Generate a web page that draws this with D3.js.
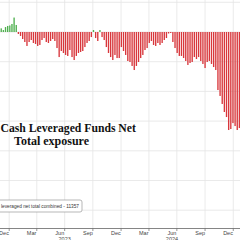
<!DOCTYPE html>
<html><head><meta charset="utf-8">
<script src="https://cdn.jsdelivr.net/npm/d3@7"></script>
<style>html,body{margin:0;padding:0;background:#fff;overflow:hidden}</style>
</head><body><svg id="c" width="240" height="240"></svg>
<script>
const startDate = "2022-12-06";
const values = [
 370, 200, 500, 610, 660, 810, 1460, 710,
 -200, -400, -710, -1010, -1410, -1010, -810, -1110, -1210, -1410, -1310, -810,
 -610, -1010, -1110, -910, -710, -910, -1620, -2530, -1920, -2120,
 -2320, -2420, -1820, -2530, -2830, -2420, -2120, -2020, -1920, -1520,
 -1110, -910, -510, 200, -610, -910, 200, -510, -810, -1520,
 -2120, -2530, -2830, -2320, -2630, -2630, -1520, -1920, -2320, -2930,
 -3030, -3430, -3840, -3430, -3030, -2630, -2320, -1820, -1620, -1110,
 -910, -1310, -1410, -1110, -1310, -1110, -810, -610, -150, -100,
 -1010, -1620, -2120, -2420, -2420, -2630, -2930, -3330, -3130, -3030,
 -2530, -2730, -2530, -2930, -3230, -3640, -3030, -2930, -3230, -3540,
 -3840, -5860, -6460, -7270, -8080, -8590, -9900, -9800, -9200, -9500,
 -9900, -9700
];
const monthLabels = ["Dec","Mar","Jun","Sep","Dec","Mar","Jun","Sep","Dec"];
const monthLabelDates = ["2022-12-15","2023-03-15","2023-06-15","2023-09-15","2023-12-15","2024-03-15","2024-06-15","2024-09-15","2024-12-15"];
const yearLabels = ["2023","2024"];
const yearLabelDates = ["2023-07-01","2024-06-15"];
const gridDates = ["2023-01-01","2023-04-01","2023-07-01","2023-10-01","2024-01-01","2024-04-01","2024-07-01","2024-10-01","2025-01-01"];
const gridValues = [3000, 0, -3000, -6000, -9000, -12000, -15000, -18000];
const titleLines = ["Cash Leveraged Funds Net", "Total exposure"];
const legendText = "leveraged net total combined - 11357";

const svg = d3.select("#c");
const W = 240, H = 240;
const x = d3.scaleUtc().domain([new Date("2022-12-02"), new Date("2025-01-23")]).range([0, W]);
const y = d3.scaleLinear().domain([0, -20000]).range([32, 230]);
const dates = values.map((v, i) => d3.utcWeek.offset(new Date(startDate), i));

// gridlines
svg.append("g").selectAll("line.h").data(gridValues).join("line")
  .attr("x1", 0).attr("x2", W).attr("y1", d => y(d)).attr("y2", d => y(d))
  .attr("stroke", "#e4e4e4").attr("stroke-width", 0.8);
svg.append("g").selectAll("line.v").data(gridDates).join("line")
  .attr("x1", d => x(new Date(d))).attr("x2", d => x(new Date(d)))
  .attr("y1", 0).attr("y2", 228)
  .attr("stroke", "#e4e4e4").attr("stroke-width", 0.8);

// bars
const bw = 1.35;
svg.append("g").selectAll("rect").data(values).join("rect")
  .attr("x", (d, i) => x(dates[i]) - bw / 2)
  .attr("width", bw)
  .attr("y", d => d >= 0 ? y(d) : y(0))
  .attr("height", d => Math.abs(y(d) - y(0)))
  .attr("fill", d => d >= 0 ? "#4fb04f" : "#d8373c");

// title
const tf = "'Liberation Serif','Times New Roman',serif";
svg.append("text").attr("x", 0.5).attr("y", 132).text(titleLines[0])
  .attr("font-family", tf).attr("font-weight", "bold").attr("font-size", 11.7).attr("fill", "#111");
svg.append("text").attr("x", 14).attr("y", 145).text(titleLines[1])
  .attr("font-family", tf).attr("font-weight", "bold").attr("font-size", 12).attr("fill", "#111");

// legend
svg.append("rect").attr("x", -3).attr("y", 200).attr("width", 85).attr("height", 12).attr("rx", 2)
  .attr("fill", "#fff").attr("stroke", "#999").attr("stroke-width", 0.7);
svg.append("text").attr("x", 1).attr("y", 208.3).text(legendText)
  .attr("font-family", "'Liberation Sans',Arial,sans-serif").attr("font-size", 6).attr("fill", "#333")
  .attr("textLength", 78).attr("lengthAdjust", "spacingAndGlyphs");

// x axis
svg.append("line").attr("x1", 0).attr("x2", W).attr("y1", 228.5).attr("y2", 228.5)
  .attr("stroke", "#666").attr("stroke-width", 0.8);
svg.append("g").selectAll("line").data(gridDates).join("line")
  .attr("x1", d => x(new Date(d))).attr("x2", d => x(new Date(d)))
  .attr("y1", 228.5).attr("y2", 231).attr("stroke", "#666").attr("stroke-width", 0.7);
svg.append("g").selectAll("text").data(monthLabels).join("text")
  .attr("x", (d, i) => x(new Date(monthLabelDates[i]))).attr("y", 235.2)
  .attr("text-anchor", "middle").text(d => d)
  .attr("font-family", "'Liberation Sans',Arial,sans-serif").attr("font-size", 5.5).attr("fill", "#444");
svg.append("g").selectAll("text").data(yearLabels).join("text")
  .attr("x", (d, i) => x(new Date(yearLabelDates[i]))).attr("y", 240.5)
  .attr("text-anchor", "middle").text(d => d)
  .attr("font-family", "'Liberation Sans',Arial,sans-serif").attr("font-size", 5.5).attr("fill", "#444");
</script></body></html>
